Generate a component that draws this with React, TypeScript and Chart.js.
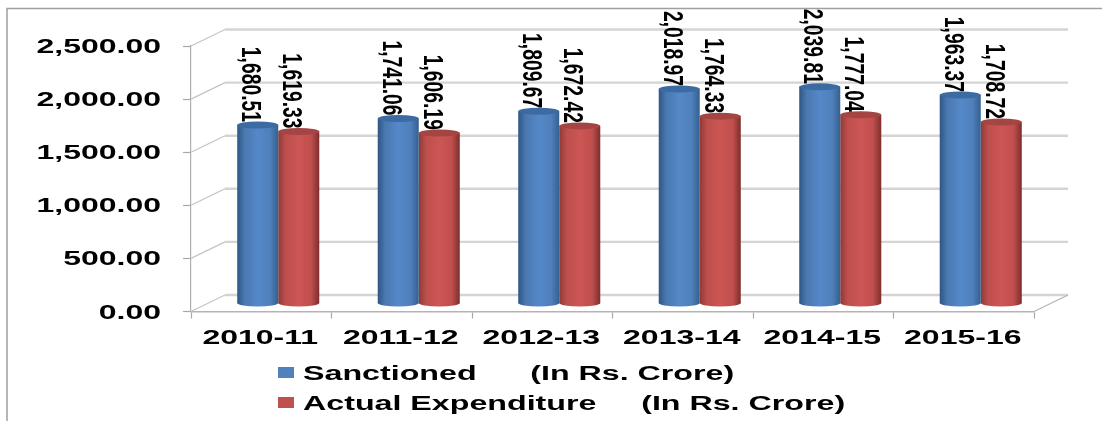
import React, { useEffect, useRef } from "react";
import { Chart, registerables } from "chart.js";

Chart.register(...registerables);

const categories = ["2010-11", "2011-12", "2012-13", "2013-14", "2014-15", "2015-16"];
const sanctioned = [1680.51, 1741.06, 1809.67, 2018.97, 2039.81, 1963.37];
const actual = [1619.33, 1606.19, 1672.42, 1764.33, 1777.04, 1708.72];
const seriesLabels = ["Sanctioned      (In Rs. Crore)", "Actual Expenditure     (In Rs. Crore)"];
const stops = [
  ["#2f5584", "#4a78b0", "#5488c8", "#4f80bc", "#35608f"],
  ["#8f3a38", "#bd4f4c", "#cc5654", "#c04f4d", "#7c2e2d"],
];
const topColors = ["#3c6aa2", "#a54543"];
const swatches = ["#4f81bd", "#c0504d"];

const DX = 17;
const DY = -8;
const DEPTH_X = 34;
const DEPTH_Y = 16.5;
const CAT_PCT = 0.584;
const BOLD = "bold 20px 'Liberation Sans'";

function stretched(ctx: any, text: string, x: number, y: number, sx: number, align: string) {
  ctx.save();
  ctx.translate(x, y);
  ctx.scale(sx, 1);
  ctx.textAlign = align;
  ctx.textBaseline = "middle";
  ctx.fillStyle = "#000";
  ctx.fillText(text, 0, 0);
  ctx.restore();
}

const depthPlugin = {
  id: "depth",
  beforeDatasetsDraw(chart: any) {
    const { ctx, chartArea: a, scales } = chart;
    ctx.save();
    ctx.fillStyle = "#fff";
    // frame
    ctx.strokeStyle = "#a0a0a0";
    ctx.lineWidth = 1.5;
    ctx.beginPath();
    ctx.moveTo(7, 421);
    ctx.lineTo(7, 8.5);
    ctx.lineTo(1102, 8.5);
    ctx.stroke();
    // wall lines
    scales.y.ticks.forEach((t: any) => {
      const y = scales.y.getPixelForValue(t.value);
      ctx.strokeStyle = "#d4d4d4";
      ctx.lineWidth = 2.4;
      ctx.beginPath();
      ctx.moveTo(a.left + DEPTH_X, y - DEPTH_Y);
      ctx.lineTo(a.right + DEPTH_X, y - DEPTH_Y);
      ctx.stroke();
      ctx.strokeStyle = "#c4c4c4";
      ctx.lineWidth = 1.2;
      ctx.beginPath();
      ctx.moveTo(a.left, y);
      ctx.lineTo(a.left + DEPTH_X, y - DEPTH_Y);
      ctx.stroke();
    });
    ctx.strokeStyle = "#b4b4b4";
    ctx.lineWidth = 1.2;
    ctx.beginPath();
    ctx.moveTo(a.right, a.bottom);
    ctx.lineTo(a.right + DEPTH_X, a.bottom - DEPTH_Y);
    ctx.stroke();
    // tick labels
    ctx.font = BOLD;
    scales.y.ticks.forEach((t: any) => {
      const y = scales.y.getPixelForValue(t.value);
      const s = t.value.toLocaleString("en-US", { minimumFractionDigits: 2, maximumFractionDigits: 2 });
      stretched(ctx, s, 161, y + 1.5, 1.6, "right");
    });
    categories.forEach((c, i) => {
      stretched(ctx, c, scales.x.getPixelForValue(i) - 1, 338, 1.6, "center");
    });
    // legend
    chart.data.datasets.forEach((d: any, i: number) => {
      const y = 374.5 + i * 30;
      ctx.fillStyle = swatches[i];
      ctx.fillRect(278, y - 7.5, 16, 11);
      stretched(ctx, d.label, 303, y, 1.61, "left");
    });
    ctx.restore();
  },
  beforeDatasetDraw(chart: any) {
    chart.ctx.save();
    chart.ctx.translate(DX, DY);
  },
  afterDatasetDraw(chart: any, args: any) {
    const { ctx } = chart;
    const i = args.index;
    args.meta.data.forEach((el: any) => {
      const rx = el.width / 2;
      ctx.fillStyle = el.options.backgroundColor;
      ctx.beginPath();
      ctx.ellipse(el.x, el.base, rx, 3.5, 0, 0, Math.PI * 2);
      ctx.fill();
      ctx.fillStyle = topColors[i];
      ctx.beginPath();
      ctx.ellipse(el.x, el.y, rx, 3.5, 0, 0, Math.PI * 2);
      ctx.fill();
    });
    ctx.restore();
  },
  afterDatasetsDraw(chart: any) {
    const { ctx } = chart;
    chart.data.datasets.forEach((d: any, i: number) => {
      chart.getDatasetMeta(i).data.forEach((el: any, j: number) => {
        ctx.save();
        ctx.translate(el.x + DX - 8, el.y + DY - 3);
        ctx.rotate(Math.PI / 2);
        ctx.scale(0.69, 1);
        ctx.font = "bold 28px 'Liberation Sans'";
        ctx.textAlign = "right";
        ctx.textBaseline = "middle";
        ctx.fillStyle = "#000";
        const s = d.data[j].toLocaleString("en-US", { minimumFractionDigits: 2, maximumFractionDigits: 2 });
        ctx.fillText(s, 0, 0);
        ctx.restore();
      });
    });
  },
};

function cylinder(context: any) {
  const ds = context.datasetIndex;
  if (context.dataIndex === undefined) return swatches[ds];
  const xs = context.chart.scales.x;
  if (!xs) return swatches[ds];
  const w = (xs.width / categories.length) * CAT_PCT * 0.5;
  const c = xs.getPixelForValue(context.dataIndex);
  const left = ds === 0 ? c - w : c;
  if (!isFinite(left) || !isFinite(w)) return swatches[ds];
  const g = context.chart.ctx.createLinearGradient(left, 0, left + w, 0);
  const st = stops[ds];
  [0, 0.18, 0.5, 0.8, 1].forEach((p, k) => g.addColorStop(p, st[k]));
  return g;
}

export default function App() {
  const ref = useRef<HTMLCanvasElement>(null);
  useEffect(() => {
    const chart = new Chart(ref.current as HTMLCanvasElement, {
      type: "bar",
      data: {
        labels: categories,
        datasets: [
          { label: seriesLabels[0], data: sanctioned, backgroundColor: cylinder },
          { label: seriesLabels[1], data: actual, backgroundColor: cylinder },
        ],
      },
      options: {
        animation: false,
        responsive: false,
        devicePixelRatio: 1,
        layout: { padding: { top: 46, right: 68, left: 0, bottom: 0 } },
        datasets: { bar: { categoryPercentage: CAT_PCT, barPercentage: 1, clip: false } },
        plugins: { legend: { display: false }, tooltip: { enabled: false }, title: { display: false } },
        scales: {
          x: {
            afterFit: (s: any) => { s.height = 109.5; },
            ticks: { display: false },
            border: { display: true, color: "#b4b4b4", width: 1.5 },
            grid: { drawOnChartArea: false, tickLength: 7, color: "#a8a8a8", tickWidth: 1.2 },
          },
          y: {
            min: 0,
            max: 2500,
            afterFit: (s: any) => { s.width = 191; },
            ticks: { display: false, stepSize: 500 },
            border: { display: true, color: "#b0b0b0", width: 1.2 },
            grid: { drawOnChartArea: false, tickLength: 8, color: "#a8a8a8", tickWidth: 1.2 },
          },
        },
      } as any,
      plugins: [depthPlugin],
    });
    return () => chart.destroy();
  }, []);
  return (
    <div style={{ position: "fixed", left: 0, top: 0, background: "#fff" }}>
      <canvas ref={ref} width={1102} height={421} style={{ display: "block", filter: "blur(0.45px)" }} />
    </div>
  );
}
